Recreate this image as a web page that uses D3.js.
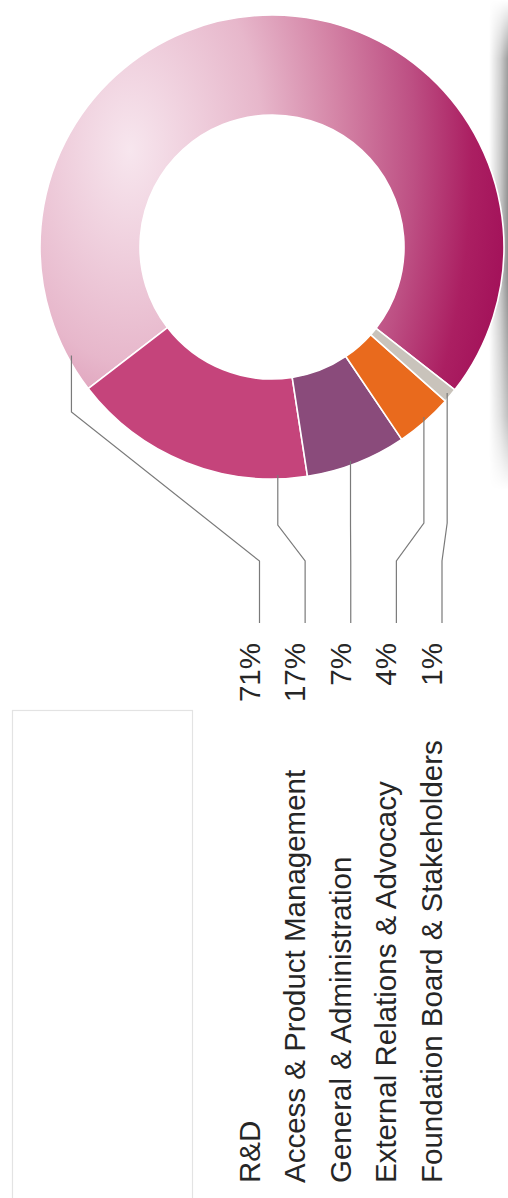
<!DOCTYPE html>
<html>
<head>
<meta charset="utf-8">
<script src="https://cdn.jsdelivr.net/npm/d3@7"></script>
<style>
  html, body { margin: 0; padding: 0; background: #ffffff; }
  svg { display: block; }
  text { font-family: "Liberation Sans", Arial, Helvetica, sans-serif; }
</style>
</head>
<body>
<svg id="chart" width="508" height="1198"></svg>
<script>
// Spending breakdown by function
const categories = [
  "R&D",
  "Access & Product Management",
  "General & Administration",
  "External Relations & Advocacy",
  "Foundation Board & Stakeholders"
];
const shares = [71, 17, 7, 4, 1];
const shareLabels = ["71%", "17%", "7%", "4%", "1%"];

// Layout and styling
const W = 508, H = 1198;
const center = { x: 272, y: 247 };
const outerR = 232, innerR = 132;
const deg = Math.PI / 180;
const firstAngle = (128 + 360) * deg;          // slices run counter-clockwise from here
const sliceFills = ["url(#rdGrad)", "#c5447b", "#8a4b7b", "#e96a1d", "#c9c3bb"];
const leaderAnchor = [0.964, 0.88, 0.45, 0.54, 0.5]; // position along each slice
const leaderKneeY = [412, 525, 525, 523, 523];
const leaderBendY = 561, leaderEndY = 623;
const labelStartY = 1183, valueEndY = 643;
const fontSize = 29.5;

const svg = d3.select("#chart");
const defs = svg.append("defs");

// page-fold shadow on the right edge
const shadowH = defs.append("linearGradient").attr("id", "shadowH")
  .attr("gradientUnits", "userSpaceOnUse").attr("x1", 489).attr("x2", 508).attr("y1", 0).attr("y2", 0);
shadowH.append("stop").attr("offset", 0).attr("stop-color", "#000").attr("stop-opacity", 0);
shadowH.append("stop").attr("offset", 0.6).attr("stop-color", "#000").attr("stop-opacity", 0.22);
shadowH.append("stop").attr("offset", 1).attr("stop-color", "#000").attr("stop-opacity", 0.45);
const shadowV = defs.append("linearGradient").attr("id", "shadowV")
  .attr("gradientUnits", "userSpaceOnUse").attr("x1", 0).attr("x2", 0).attr("y1", 0).attr("y2", 490);
[[0, 0], [0.12, 0.85], [0.55, 1], [0.85, 0.55], [1, 0]].forEach(([o, a]) =>
  shadowV.append("stop").attr("offset", o).attr("stop-color", "#fff").attr("stop-opacity", a));
const mask = defs.append("mask").attr("id", "shadowMask").attr("maskUnits", "userSpaceOnUse")
  .attr("x", 0).attr("y", 0).attr("width", W).attr("height", H);
mask.append("rect").attr("x", 480).attr("y", 0).attr("width", 28).attr("height", 490).attr("fill", "url(#shadowV)");
svg.append("rect").attr("x", 480).attr("y", 0).attr("width", 28).attr("height", 490)
  .attr("fill", "url(#shadowH)").attr("mask", "url(#shadowMask)");

// shaded fill of the main slice (coordinates relative to the donut centre)
const hx = 130 - center.x, hy = 150 - center.y;
const rdGrad = defs.append("radialGradient").attr("id", "rdGrad")
  .attr("gradientUnits", "userSpaceOnUse")
  .attr("cx", hx).attr("cy", hy).attr("fx", hx).attr("fy", hy).attr("r", 380)
  .attr("gradientTransform", `translate(${hx},${hy}) scale(1,1.6) translate(${-hx},${-hy})`);
[[0, "#f7e6ee"], [0.35, "#e7b7cb"], [0.55, "#d484a6"], [0.75, "#bd4f83"], [0.9, "#ab1f62"], [1, "#a3125a"]]
  .forEach(([o, c]) => rdGrad.append("stop").attr("offset", o).attr("stop-color", c));

// light frame at lower left
svg.append("rect").attr("x", 12.5).attr("y", 710.5).attr("width", 180).attr("height", 520)
  .attr("fill", "none").attr("stroke", "#e3e3e3").attr("stroke-width", 1.2);

// donut
const pie = d3.pie().sort(null).value(d => d)
  .startAngle(firstAngle).endAngle(firstAngle - 2 * Math.PI);
const arcs = pie(shares);
const arc = d3.arc().innerRadius(innerR).outerRadius(outerR);

svg.append("g").attr("transform", `translate(${center.x},${center.y})`)
  .selectAll("path").data(arcs).join("path")
  .attr("d", arc)
  .attr("fill", (d, i) => sliceFills[i])
  .attr("stroke", "#ffffff").attr("stroke-width", 1.6).attr("stroke-linejoin", "round");

// row positions for labels and leaders
const row = d3.scalePoint().domain(categories).range([259.5, 442]);

// leader lines
const leaderR = outerR - 4;
const leaders = arcs.map((a, i) => {
  const ang = a.startAngle + leaderAnchor[i] * (a.endAngle - a.startAngle);
  const sx = center.x + leaderR * Math.sin(ang);
  const sy = center.y - leaderR * Math.cos(ang);
  const lx = row(categories[i]);
  return [[sx, sy], [sx, leaderKneeY[i]], [lx, leaderBendY], [lx, leaderEndY]];
});
svg.append("g").selectAll("path").data(leaders).join("path")
  .attr("d", d3.line())
  .attr("fill", "none").attr("stroke", "#7a7a7a").attr("stroke-width", 1.2);

// category names, reading upward
svg.append("g").selectAll("text").data(categories).join("text")
  .attr("transform", d => `translate(${row(d)},${labelStartY}) rotate(-90)`)
  .attr("text-anchor", "start")
  .attr("font-size", fontSize).attr("fill", "#262626")
  .text(d => d);

// share values
svg.append("g").selectAll("text").data(shareLabels).join("text")
  .attr("transform", (d, i) => `translate(${row(categories[i])},${valueEndY}) rotate(-90)`)
  .attr("text-anchor", "end")
  .attr("font-size", fontSize).attr("fill", "#262626")
  .text(d => d);
</script>
</body>
</html>
